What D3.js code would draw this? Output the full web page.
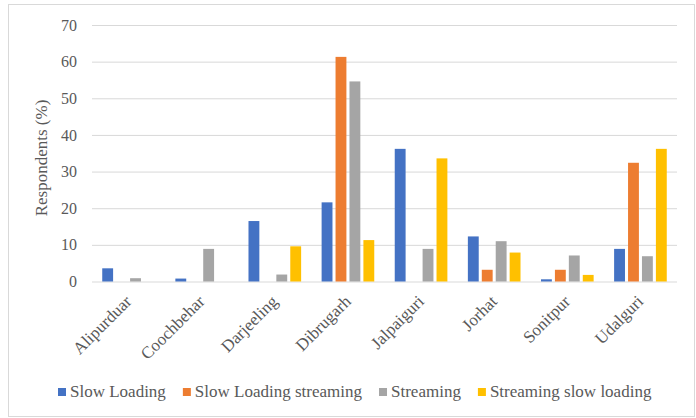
<!DOCTYPE html>
<html>
<head>
<meta charset="utf-8">
<script src="https://cdn.jsdelivr.net/npm/d3@7/dist/d3.min.js"></script>
<style>
  html, body { margin: 0; padding: 0; background: #fff; }
  svg { display: block; font-family: "Liberation Serif", "Times New Roman", serif; }
</style>
</head>
<body>
<svg id="chart" width="696" height="418"></svg>
<script>
// Districts along the x axis
const districts = ["Alipurduar", "Coochbehar", "Darjeeling", "Dibrugarh", "Jalpaiguri", "Jorhat", "Sonitpur", "Udalguri"];

// Series names (legend order)
const seriesNames = ["Slow Loading", "Slow Loading streaming", "Streaming", "Streaming slow loading"];

// Share of respondents (%) per district for each series
const slowLoading          = [3.6, 0.8, 16.5, 21.6, 36.2, 12.3, 0.6, 8.9];
const slowLoadingStreaming = [0,   0,   0,    61.3, 0,    3.2,  3.2, 32.4];
const streaming            = [0.9, 8.9, 1.9,  54.6, 8.9,  11.0, 7.1, 6.9];
const streamingSlowLoading = [0,   0,   9.6,  11.3, 33.6, 7.9,  1.8, 36.2];

// Y axis ticks
const yTicks = [0, 10, 20, 30, 40, 50, 60, 70];

const seriesValues = [slowLoading, slowLoadingStreaming, streaming, streamingSlowLoading];
const colors = ["#4472C4", "#ED7D31", "#A5A5A5", "#FFC000"];

const svg = d3.select("#chart");

// Chart frame
svg.append("rect")
  .attr("x", 8.5).attr("y", 4.5)
  .attr("width", 686).attr("height", 412)
  .attr("fill", "#fff")
  .attr("stroke", "#d9d9d9");

const plot = { left: 92, right: 677, top: 25, bottom: 281.5 };

const x0 = d3.scaleBand()
  .domain(districts)
  .range([plot.left, plot.right])
  .paddingInner(0.28)
  .paddingOuter(0.14);

const x1 = d3.scaleBand()
  .domain(d3.range(seriesNames.length))
  .range([0, x0.bandwidth()])
  .paddingInner(0.22);

const y = d3.scaleLinear()
  .domain([0, 70])
  .range([plot.bottom, plot.top]);

// Horizontal gridlines and value labels
const yAxis = d3.axisLeft(y)
  .tickValues(yTicks)
  .tickSize(-(plot.right - plot.left))
  .tickPadding(15)
  .tickFormat(d3.format("d"));

const gy = svg.append("g")
  .attr("transform", `translate(${plot.left},0)`)
  .call(yAxis);
gy.select(".domain").remove();
gy.selectAll(".tick line").attr("stroke", "#d9d9d9").attr("stroke-width", 1);
gy.selectAll(".tick text")
  .attr("fill", "#595959")
  .style("font-size", "16px")
  .style("font-family", "'Liberation Serif', serif");

// Bars
const groups = svg.append("g")
  .selectAll("g")
  .data(districts)
  .join("g")
  .attr("transform", d => `translate(${x0(d)},0)`);

groups.selectAll("rect")
  .data((d, i) => seriesValues.map((vals, s) => ({ s, v: vals[i] })))
  .join("rect")
  .filter(d => d.v > 0)
  .attr("x", d => x1(d.s))
  .attr("y", d => y(d.v))
  .attr("width", x1.bandwidth())
  .attr("height", d => y(0) - y(d.v))
  .attr("fill", d => colors[d.s]);

// Rotated district labels
svg.append("g")
  .selectAll("text")
  .data(districts)
  .join("text")
  .attr("transform", d => `translate(${x0(d) + x0.bandwidth() / 2 + 4},${plot.bottom + 21}) rotate(-45)`)
  .attr("text-anchor", "end")
  .attr("fill", "#595959")
  .style("font-size", "17px")
  .text(d => d);

// Y axis title
svg.append("text")
  .attr("transform", `translate(47,158) rotate(-90)`)
  .attr("text-anchor", "middle")
  .attr("fill", "#595959")
  .style("font-size", "17px")
  .text("Respondents (%)");

// Legend
const legend = svg.append("g").attr("transform", "translate(58,397)");
let lx = 0;
seriesNames.forEach((name, i) => {
  const item = legend.append("g").attr("transform", `translate(${lx},0)`);
  item.append("rect")
    .attr("x", 0).attr("y", -9)
    .attr("width", 8).attr("height", 8)
    .attr("fill", colors[i]);
  const t = item.append("text")
    .attr("x", 12).attr("y", 0)
    .attr("fill", "#595959")
    .style("font-size", "17px")
    .text(name);
  lx += 12 + t.node().getComputedTextLength() + 17;
});
</script>
</body>
</html>
